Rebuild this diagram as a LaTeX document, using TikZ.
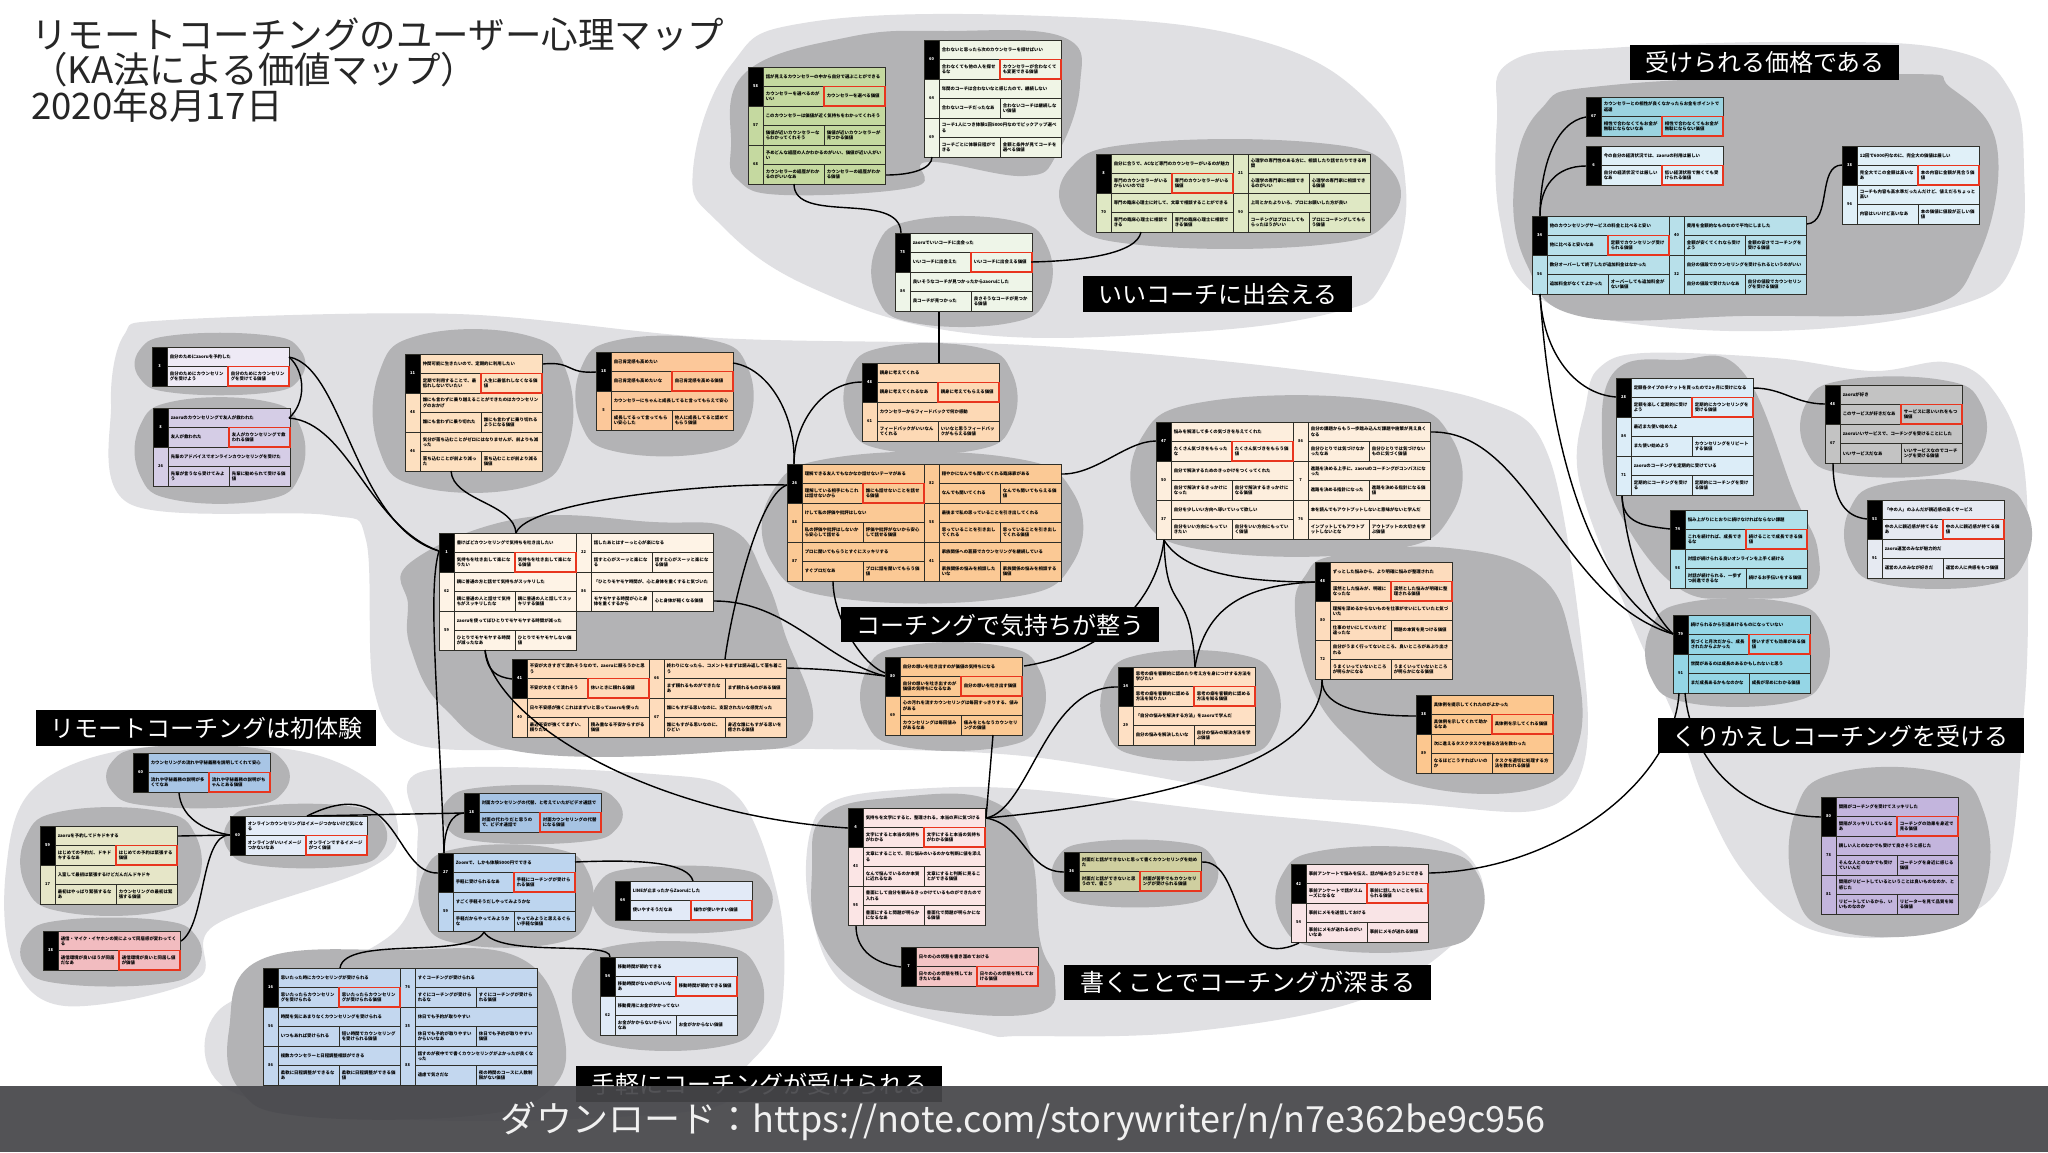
\documentclass[tikz,border=0pt]{standalone}
\usepackage{fontspec}
\setmainfont{Noto Sans CJK JP}
\XeTeXlinebreaklocale "ja"
\XeTeXlinebreakskip=0pt plus .2pt
\usetikzlibrary{calc}
\definecolor{lightblob}{HTML}{E0E0E3}
\definecolor{darkblob}{HTML}{B3B3B5}
\definecolor{valred}{HTML}{E8351E}
\definecolor{cellline}{HTML}{2E2E28}
\definecolor{bandgrey}{HTML}{46464A}
\newcounter{cellno}
\tikzset{
	outerblob/.style={fill=lightblob},
	innerblob/.style={fill=darkblob},
	link/.style={draw=black,line width=.7pt},
	cell/.style={draw=cellline,line width=.42pt,fill=cardfill,anchor=north west,outer sep=0pt,
		inner xsep=1.4pt,inner ysep=0pt,minimum height=9.75pt,align=left,
		font=\fontsize{2.2}{2.55}\selectfont\bfseries},
	numcell/.style={draw=cellline,line width=.42pt,fill=cardfill,anchor=north west,outer sep=0pt,
		inner sep=0pt,minimum width=7.5pt,minimum height=19.5pt,align=center,
		font=\fontsize{2}{2.4}\selectfont\bfseries},
	numfirst/.style={fill=black,text=white},
	numnext/.style={},
	valfirst/.style={draw=valred,line width=.72pt},
	valnext/.style={},
	cardspot/.style={inner sep=0pt,outer sep=0pt,anchor=north west},
	clusterlabel/.style={fill=black,text=white,anchor=north west,inner sep=0pt,
		font=\fontsize{12}{14}\selectfont},
	titleline/.style={anchor=west,inner sep=0pt,text=black!85,font=\fontsize{18.25}{20}\selectfont}
}
% one card of the map: name, left, top, columns, rows, colour
\newcommand{\kacard}[6]{
	\node[cardspot,minimum width=#4*68.5pt,minimum height=#5*19.5pt] (#1) at (#2,#3) {};
	\definecolor{cardfill}{HTML}{#6}
}
% one unit of a card: first/next, left, top, number, story, reason, value
\newcommand{\kaunit}[7]{
	\stepcounter{cellno}
	\begin{scope}[shift={(#2,#3)}]
		\node[numcell,num#1] (n\thecellno) at (0,0) {#4};
		\node[cell,text width=58.2pt] (s\thecellno) at (15,0) {#5};
		\node[cell,text width=27.7pt] (r\thecellno) at (15,19.5) {#6};
		\node[cell,text width=27.7pt,val#1] (v\thecellno) at (76,19.5) {#7};
	\end{scope}
}
% a point on a card, in pixels from its top left corner
\newcommand{\cardpt}[3]{($(#1.north west)+(#2,#3)$)}
\begin{document}
\begin{tikzpicture}[x=.5pt,y=-.5pt]
	\useasboundingbox (0,0) rectangle (2048,1152);
	\fill[white] (0,0) rectangle (2048,1152);

	% clusters, light
	\fill[outerblob] plot[smooth cycle,tension=.7] coordinates {(693,170) (731,65) (810,22) (1045,16) (1254,39) (1371,104) (1406,190) (1384,281) (1332,313) (1175,333) (966,333) (810,287) (718,222)};
	\fill[outerblob] plot[smooth cycle,tension=.7] coordinates {(1497,120) (1510,62) (1610,48) (1800,42) (1950,50) (2010,90) (2024,170) (2015,260) (1960,305) (1800,330) (1620,322) (1530,290) (1500,220)};
	\fill[outerblob] plot[smooth cycle,tension=.6] coordinates {(1586,404) (1599,368) (1644,353) (1775,358) (1873,371) (1945,362) (1990,386) (2023,460) (2028,600) (2023,723) (2003,880) (1938,925) (1873,938) (1801,925) (1742,870) (1703,796) (1677,723) (1628,613) (1579,480)};
	\fill[outerblob] plot[smooth cycle,tension=.55] coordinates {(124,335) (170,320) (457,314) (718,338) (1024,345) (1285,368) (1481,400) (1550,460) (1586,686) (1579,778) (1533,811) (1416,804) (1253,793) (1024,756) (816,749) (575,749) (418,745) (374,690) (366,540) (327,515) (130,504) (111,404)};
	\fill[outerblob] plot[smooth cycle,tension=.6] coordinates {(130,749) (287,749) (372,782) (398,833) (366,870) (215,925) (196,980) (65,1006) (13,962) (6,870) (33,789)};
	\fill[outerblob] plot[smooth cycle,tension=.55] coordinates {(424,771) (653,774) (738,797) (780,907) (780,1017) (745,1068) (700,1110) (420,1120) (229,1090) (219,1010) (366,951) (411,907) (418,833)};
	\fill[outerblob] plot[smooth cycle,tension=.6] coordinates {(810,833) (836,800) (914,789) (1024,789) (1220,811) (1416,833) (1478,870) (1468,929) (1364,999) (1187,1032) (1024,1036) (980,1032) (849,988) (810,907)};

	% clusters, dark
	\fill[innerblob] plot[smooth cycle,tension=.7] coordinates {(731,147) (745,73) (849,37) (947,31) (1063,37) (1080,85) (1057,154) (1024,176) (927,162) (914,187) (784,195) (738,180)};
	\fill[innerblob] plot[smooth cycle,tension=.7] coordinates {(411,562) (522,518) (653,522) (731,529) (764,576) (784,631) (810,730) (718,752) (522,752) (444,708) (411,649) (408,605)};
	\fill[innerblob] plot[smooth cycle,tension=.7] coordinates {(1337,555) (1449,548) (1540,576) (1573,650) (1579,741) (1533,789) (1416,785) (1351,741) (1311,686) (1295,613) (1305,576)};
	\fill[innerblob] plot[smooth cycle,tension=.7] coordinates {(1514,184) (1540,110) (1612,85) (1899,74) (1951,88) (1997,147) (1978,257) (1919,309) (1742,316) (1579,316) (1527,265)};
	\fill[innerblob] plot[smooth cycle,tension=.7] coordinates {(1602,441) (1615,371) (1677,360) (1742,371) (1795,496) (1818,551) (1808,591) (1742,598) (1677,587) (1618,510)};
	\fill[innerblob] plot[smooth cycle,tension=.7] coordinates {(812,870) (825,815) (900,797) (990,800) (1030,850) (1040,940) (1055,980) (1040,1012) (950,1012) (870,990) (820,940)};
	\fill[innerblob] plot[smooth cycle,tension=.7] coordinates {(229,1030) (260,960) (400,950) (520,958) (563,1030) (550,1090) (470,1116) (300,1116) (240,1090)};
	\foreach \xa/\ya/\xb/\yb in {877/220/1047/323,1070/143/1390/245,140/335/300/393,140/401/300/500,
		379/335/567/487,581/340/748/452,849/347/1012/450,772/457/1073/598,1141/401/1452/551,
		866/646/1040/747,1106/654/1275/757,1806/380/1981/474,1850/483/2026/585,1651/602/1824/703,
		1795/773/1984/931,1057/842/1213/905,1282/850/1478/949,112/747/284/806,26/811/196/912,
		26/920/196/984,229/806/382/866,447/787/617/842,424/848/588/944,598/868/767/931,578/945/758/1047}
		\fill[innerblob] plot[smooth cycle,tension=.75] coordinates {({\xa+.22*(\xb-\xa)},\ya) ({\xb-.22*(\xb-\xa)},\ya) (\xb,{\ya+.25*(\yb-\ya)}) (\xb,{\yb-.25*(\yb-\ya)}) ({\xb-.22*(\xb-\xa)},\yb) ({\xa+.22*(\xb-\xa)},\yb) (\xa,{\yb-.25*(\yb-\ya)}) (\xa,{\ya+.25*(\yb-\ya)})};

	% いいコーチ
	\kacard{pick}{748}{67}{1}{3}{C5D9A0}
	\kaunit{next}{748}{106}{57}{このカウンセラーは価値が近く気持ちをわかってくれそう}{価値が近いカウンセラーならわかってくれそう}{価値が近いカウンセラーが見つかる価値}
	\kaunit{next}{748}{145}{68}{予めどんな経歴の人かわかるのがいい、価値が近い人がいい}{カウンセラーの経歴がわかるのがいいなあ}{カウンセラーの経歴がわかる価値}
	\kaunit{first}{748}{67}{58}{話が見えるカウンセラーの中から自分で選ぶことができる}{カウンセラーを選べるのがいい}{カウンセラーを選べる価値}
	\kacard{change}{924}{40}{1}{3}{F0F5E6}
	\kaunit{next}{924}{79}{64}{年間のコーチは合わないなと感じたので、継続しない}{合わないコーチだったなあ}{合わないコーチは継続しない価値}
	\kaunit{next}{924}{118}{69}{コーチ1人につき体験1回5000円なのでピックアップ選べる}{コーチごとに体験日程ができる}{金額と条件が見てコーチを選べる価値}
	\kaunit{first}{924}{40}{60}{合わないと思ったら次のカウンセラーを探せばいい}{合わなくても他の人を探せるな}{カウンセラーが合わなくても変更できる価値}
	\kacard{goodcoach}{895}{233}{1}{2}{EEF5E8}
	\kaunit{next}{895}{272}{84}{良いそうなコーチが見つかったからzaoruにした}{良コーチが見つかった}{良さそうなコーチが見つかる価値}
	\kaunit{first}{895}{233}{75}{zaoruでいいコーチに出会った}{いいコーチに出会えた}{いいコーチに出会える価値}
	\kacard{expert}{1096}{154}{2}{2}{DFE8C4}
	\kaunit{next}{1096}{193}{70}{専門の臨床心理士に対して、文章で相談することができる}{専門の臨床心理士に相談できる}{専門の臨床心理士に相談できる価値}
	\kaunit{next}{1233}{154}{21}{心理学の専門性のある方に、相談したり話せたりできる時間}{心理学の専門家に相談できるのがいい}{心理学の専門家に相談できる価値}
	\kaunit{next}{1233}{193}{90}{上司とかたよりいろ、プロにお願いした方が良い}{コーチングはプロにしてもらったほうがいい}{プロにコーチングしてもらう価値}
	\kaunit{first}{1096}{154}{8}{自分に合うで、ACなど専門のカウンセラーがいるのが魅力}{専門のカウンセラーがいるからいいのでは}{専門のカウンセラーがいる価値}

	% コーチングで気持ちが整う
	\kacard{self}{152}{347}{1}{1}{EEEAF5}
	\kaunit{first}{152}{347}{3}{自分のためにzaoruを予約した}{自分のためにカウンセリングを受けよう}{自分のためにカウンセリングを受けてる価値}
	\kacard{friend}{153}{408}{1}{2}{D5CDE6}
	\kaunit{next}{153}{447}{26}{先輩のアドバイスでオンラインカウンセリングを受けた}{先輩が言うなら受けてみよう}{先輩に勧められて受ける価値}
	\kaunit{first}{153}{408}{8}{zaoruのカウンセリングで友人が救われた}{友人が救われた}{友人がカウンセリングで救われる価値}
	\kacard{burnout}{405}{354}{1}{3}{FDE0C0}
	\kaunit{next}{405}{393}{48}{誰にも言わずに乗り越えることができたのはカウンセリングのおかげ}{誰にも言わずに乗り切れた}{誰にも言わずに乗り切れるようになる価値}
	\kaunit{next}{405}{432}{46}{気分が落ち込むことがゼロにはなりませんが、前よりも減った}{落ち込むことが前より減った}{落ち込むことが前より減る価値}
	\kaunit{first}{405}{354}{11}{仲間可能に生きたいので、定期的に利用したい}{定期で利用することで、最低れしないでいたい}{人生に最低れしなくなる価値}
	\kacard{esteem}{596}{352}{1}{2}{FCC89A}
	\kaunit{next}{596}{391}{5}{カウンセラーにちゃんと成長してると言ってもらえて安心}{成長してるって言ってもらい安心した}{他人に成長してると認めてもらう価値}
	\kaunit{first}{596}{352}{18}{自己肯定感も高めたい}{自己肯定感も高めたいな}{自己肯定感を高める価値}
	\kacard{listen}{862}{363}{1}{2}{FDD9B5}
	\kaunit{next}{862}{402}{61}{カウンセラーからフィードバックで何か感動}{フィードバックがいいなんてくれる}{いいなと思うフィードバックがもらえる価値}
	\kaunit{first}{862}{363}{48}{親身に考えてくれる}{親身に考えてくれるなあ}{親身に考えてもらえる価値}
	\kacard{unsaid}{787}{464}{2}{3}{FBC995}
	\kaunit{next}{787}{503}{88}{けして私の評価や批評はしない}{私の評価や批評はしないから安心して話せる}{評価や批評がないから安心して話せる価値}
	\kaunit{next}{787}{542}{87}{プロに聞いてもらうとすぐにスッキリする}{すぐプロだなあ}{プロに話を聞いてもらう価値}
	\kaunit{next}{924}{464}{82}{穏やかになんでも聞いてくれる臨床家がある}{なんでも聞いてくれる}{なんでも聞いてもらえる価値}
	\kaunit{next}{924}{503}{58}{最後まで私の思っていることを引き出してくれる}{思っていることを引き出してくれる}{思っていることを引き出してくれる価値}
	\kaunit{next}{924}{542}{41}{家族関係への葛藤でカウンセリングを継続している}{家族関係の悩みを相談したいな}{家族関係の悩みを相談する価値}
	\kaunit{first}{787}{464}{26}{理解できる友人でもなかなか話せないテーマがある}{理解している相手にもこれは話せないから}{誰にも話せないことを話せる価値}
	\kacard{insight}{1156}{422}{2}{3}{FDEEDD}
	\kaunit{next}{1156}{461}{50}{自分で解決するためのきっかけをつくってくれた}{自分で解決するきっかけになった}{自分で解決するきっかけになる価値}
	\kaunit{next}{1156}{500}{37}{自分を少しいい方向へ導いていって欲しい}{自分をいい方向にもっていきたい}{自分をいい方向にもっていく価値}
	\kaunit{next}{1293}{422}{86}{自分の課題からもう一歩踏み込んだ課題や施策が見え良くなる}{自分ひとりでは気づけなかったなあ}{自分ひとりでは気づけないものに気づく価値}
	\kaunit{next}{1293}{461}{7}{進路を決める上手に、zaoruのコーチングがコンパスになった}{進路を決める指針になった}{進路を決める指針になる価値}
	\kaunit{next}{1293}{500}{76}{本を読んでもアウトプットしないと意味がないと学んだ}{インプットしてもアウトプットしないとな}{アウトプットの大切さを学ぶ価値}
	\kaunit{first}{1156}{422}{47}{悩みを解消して多くの気づきを与えてくれた}{たくさん気づきをもらったな}{たくさん気づきをもらう価値}
	\kacard{release}{439}{533}{2}{3}{FEF3E6}
	\kaunit{next}{439}{572}{62}{親に普通の方と話せて気持ちがスッキリした}{親に普通の人と話せて気持ちがスッキリしたな}{親に普通の人と話してスッキリする価値}
	\kaunit{next}{439}{611}{59}{zaoruを使ってぼひとりでモヤモヤする時間が減った}{ひとりでモヤモヤする時間が減ったなあ}{ひとりでモヤモヤしない価値}
	\kaunit{next}{576}{533}{22}{話したあとはすーっと心が楽になる}{話すと心がスーッと楽になる}{話すと心がスーッと楽になる価値}
	\kaunit{next}{576}{572}{86}{「ひとりモヤモヤ時間が、心と身体を重くすると気づいた}{モヤモヤする時間が心と身体を重くするから}{心と身体が軽くなる価値}
	\kaunit{first}{439}{533}{1}{書けばどカウンセリングで気持ちを吐き出したい}{気持ちを吐き出して楽になりたい}{気持ちを吐き出して楽になる価値}
	\kacard{lean}{512}{659}{2}{2}{FEDCBC}
	\kaunit{next}{512}{698}{40}{日々不安感が強くこれはまずいと思ってzaoruを使った}{最近不安が強くてまずい、頼りたい}{積み重なる不安からすがる価値}
	\kaunit{next}{649}{659}{66}{終わりになったら、コメントをまずは読み返して落ち着こう}{まず頼れるものができたなあ}{まず頼れるものがある価値}
	\kaunit{next}{649}{698}{67}{誰にもすがる思いなのに、支配されたいな感覚だった}{誰にもすがる思いなのに、ひどい}{身近な誰にもすがる思いを癒される価値}
	\kaunit{first}{512}{659}{41}{不安が大きすぎて潰れそうなので、zaoruに頼ろうかと思う}{不安が大きくて潰れそう}{休いときに頼れる価値}
	\kacard{outlet}{885}{657}{1}{2}{FCC993}
	\kaunit{next}{885}{696}{69}{心の汚れを流すカウンセリングは毎回すっきりする、値みがある}{カウンセリングは毎回値みがあるなあ}{痛みをともなうカウンセリングの価値}
	\kaunit{first}{885}{657}{80}{自分の想いを吐き出すのが価値の気持ちになる}{自分の想いを吐き出すのが価値の気持ちになるなあ}{自分の想いを吐き出す価値}
	\kacard{method}{1118}{667}{1}{2}{FEE0C4}
	\kaunit{next}{1118}{706}{29}{「自分の悩みを解決する方法」をzaoruで学んだ}{自分の悩みを解決したいな}{自分の悩みの解決方法を学ぶ価値}
	\kaunit{first}{1118}{667}{14}{思考の癖を客観的に認めたり考え方を身につけする方法を学びたい}{思考の癖を客観的に認める方法を知りたい}{思考の癖を客観的に認める方法を知る価値}
	\kacard{clarity}{1315}{562}{1}{3}{FDDCBD}
	\kaunit{next}{1315}{601}{80}{理解を深めるからないものを仕事がせいにしていたと気づいた}{仕事のせいにしていたけど違ったな}{問題の本質を見つける価値}
	\kaunit{next}{1315}{640}{72}{自分がうまく行ってないところ、良いところがあぶり出される}{うまくいっていないところが明らかになる}{うまくいっていないところが明らかになる価値}
	\kaunit{first}{1315}{562}{48}{ずっとした悩みから、より明確に悩みが整理された}{漠然とした悩みが、明確になったな}{漠然とした悩みが明確に整理される価値}
	\kacard{example}{1416}{695}{1}{2}{FCC78F}
	\kaunit{next}{1416}{734}{89}{次に進えるタスクタスクを創る方法を教わった}{なるほどこうすればいいのか}{タスクを適切に処理する方法を教われる価値}
	\kaunit{first}{1416}{695}{38}{具体例を提示してくれたのがよかった}{具体例を示してくれて助かるなあ}{具体例を示してくれる価値}

	% 受けられる価格である
	\kacard{refund}{1586}{97}{1}{1}{9BD3E0}
	\kaunit{first}{1586}{97}{67}{カウンセラーとの相性が良くなかったらお金をポイントで返還}{相性で合わなくてもお金が無駄にならないなあ}{相性で合わなくてもお金が無駄にならない価値}
	\kacard{budget}{1586}{146}{1}{1}{DFF0F8}
	\kaunit{first}{1586}{146}{6}{今の自分の経済状況では、zaoruの利用は厳しい}{自分の経済状況では厳しいなあ}{低い経済状態で無くても受けられる価値}
	\kacard{cheap}{1532}{216}{2}{2}{B8E0EA}
	\kaunit{next}{1532}{255}{56}{数分オーバーして終了したが追加料金はなかった}{追加料金がなくてよかった}{オーバーしても追加料金がない価値}
	\kaunit{next}{1669}{216}{40}{費用を金額的なものなので平均にしました}{金額が安くてくれなら受けよう}{金額の安さでコーチングを受ける価値}
	\kaunit{next}{1669}{255}{32}{自分の値段でカウンセリングを受けられるというのがいい}{自分の値段で受けたいなあ}{自分の値段でカウンセリングを受ける価値}
	\kaunit{first}{1532}{216}{34}{他のカウンセリングサービスの料金と比べると安い}{他に比べると安いなあ}{定額でカウンセリング受けられる価値}
	\kacard{fairprice}{1842}{146}{1}{2}{E0F0F8}
	\kaunit{next}{1842}{185}{96}{コーチも内容も高水準だったんだけど、値えだろちょっと高い}{内容はいいけど高いなあ}{本の価値に値段が正しい価値}
	\kaunit{first}{1842}{146}{38}{12回で6000円なのに、完全大の価値は厳しい}{完全大でこの金額は高いなあ}{本の内容に金額が見合う価値}
	% くりかえしコーチングを受ける
	\kacard{regular}{1616}{378}{1}{3}{DCEDF8}
	\kaunit{next}{1616}{417}{84}{最近また使い始めたよ}{また使い始めよう}{カウンセリングをリピートする価値}
	\kaunit{next}{1616}{456}{71}{zaoruのコーチングを定期的に受けている}{定期的にコーチングを受ける}{定期的にコーチングを受ける価値}
	\kaunit{first}{1616}{378}{28}{定額各タイプのチケットを買ったので2ヶ月に受けになる}{定額を楽しく定期的に受けよう}{定期的にカウンセリングを受ける価値}
	\kacard{fan}{1825}{385}{1}{2}{C3C3C3}
	\kaunit{next}{1825}{424}{67}{zaoruいいサービスで、コーチングを受けることにした}{いいサービスだなあ}{いいサービスなのでコーチングを受ける価値}
	\kaunit{first}{1825}{385}{48}{zaoruが好き}{このサービスが好きだなあ}{サービスに思いいれをもつ価値}
	\kacard{progress}{1670}{510}{1}{2}{B0E0EA}
	\kaunit{next}{1670}{549}{98}{対話が続けられる良いオンラインを上手く続ける}{対話が続けられる、一歩ずつ前進できるな}{続けるお手伝いをする価値}
	\kaunit{first}{1670}{510}{74}{悩み上がりにとおりに続けなければならない課題}{これを続ければ、成長できるな}{続けることで成長できる価値}
	\kacard{staff}{1867}{500}{1}{2}{E6EAF2}
	\kaunit{next}{1867}{539}{91}{zaoru運営のみなが魅力的だ}{運営の人のみなが好きだ}{運営の人に共感をもつ価値}
	\kaunit{first}{1867}{500}{53}{「中の人」のふんだが親近感の高くサービス}{中の人に親近感が持てるなあ}{中の人に親近感が持てる価値}
	\kacard{effect}{1673}{615}{1}{2}{95D6E6}
	\kaunit{next}{1673}{654}{91}{世間があるのは成長のあるかもしれないと思う}{まだ成長あるかもなのかな}{成長が早めにわかる価値}
	\kaunit{first}{1673}{615}{79}{続けられるから引退あけるものになっていない}{気づくと月次だから、成長されたからよかった}{使いすぎても効果がある価値}
	\kacard{watch}{1821}{797}{1}{3}{C3B5DD}
	\kaunit{next}{1821}{836}{78}{親しい人とのなかでも受けて良さそうと感じた}{そんな人とのなかでも受けていいんだ}{コーチングを身近に感じる価値}
	\kaunit{next}{1821}{875}{81}{間隔がリピートしているということは良いものなのか、と感じた}{リピートしているから、いいものなのか}{リピーターを見て品質を知る価値}
	\kaunit{first}{1821}{797}{80}{間隔がコーチングを受けてスッキリした}{間隔がスッキリしているなあ}{コーチングの効果を身近で見る価値}

	% 書くことでコーチングが深まる
	\kacard{writeonly}{1064}{852}{1}{1}{CFCFA0}
	\kaunit{first}{1064}{852}{36}{対面だと話ができないと思って書くカウンセリングを始めた}{対面だと話ができないと思うので、書こう}{対面が苦手でもカウンセリングが受けられる価値}
	\kacard{memo}{1291}{864}{1}{2}{F9E4E6}
	\kaunit{next}{1291}{903}{54}{事前にメモを送信しておける}{事前にメモが送れるのがいいなあ}{事前にメモが送れる価値}
	\kaunit{first}{1291}{864}{42}{事前アンケートで悩みを伝え、話が噛み合うようにできる}{事前アンケートで話がスムーズになるな}{事前に話したいことを伝えられる価値}
	\kacard{writing}{848}{808}{1}{3}{FBE5E5}
	\kaunit{next}{848}{847}{43}{文章にすることで、同じ悩みのいるのかな判断に値を添える}{なんで悩んでいるのか本質に近れるなあ}{文章にすると判断に見ることができる価値}
	\kaunit{next}{848}{886}{95}{書面にして自分を観みるきっかけているものができたので入れる}{書面にすると問題が明らかになるなあ}{書面化で問題が明らかになる価値}
	\kaunit{first}{848}{808}{4}{気持ちを文字にすると、整理される。本当の声に気づける}{文字にすると本当の気持ちがわかる}{文字にすると本当の気持ちがわかる価値}
	\kacard{diary}{901}{947}{1}{1}{F4C5C5}
	\kaunit{first}{901}{947}{7}{日々の心の状態を書き溜めておける}{日々の心の状態を残しておきたいなあ}{日々の心の状態を残しておける価値}

	% リモートコーチングは初体験
	\kacard{rules}{133}{753}{1}{1}{A8C5E5}
	\kaunit{first}{133}{753}{60}{カウンセリングの流れや守秘義務を説明してくれて安心}{流れや守秘義務の説明が多くてなあ}{流れや守秘義務の説明がちゃんとある価値}
	\kacard{nerves}{40}{826}{1}{2}{E6E6C8}
	\kaunit{next}{40}{865}{17}{入室して最初は緊張するけどだんだんドキドキ}{最初はやっぱり緊張するなあ}{カウンセリングの最初は緊張する価値}
	\kaunit{first}{40}{826}{59}{zaoruを予約してドキドキする}{はじめての予約だ、ドキドキするなあ}{はじめての予約は緊張する価値}
	\kacard{sound}{43}{931}{1}{1}{F2BCC0}
	\kaunit{first}{43}{931}{38}{通信・マイク・イヤホンの質によって同居感が変わってくる}{通信環境が良いほうが同居だなあ}{通信環境が良いと同居し値が価値}
	\kacard{online}{230}{816}{1}{1}{E4ECF8}
	\kaunit{first}{230}{816}{60}{オンラインカウンセリングはイメージつかないけど気になる}{オンラインがいいイメージつかないなあ}{オンラインでするイメージがつく価値}

	% 手軽にコーチングが受けられる
	\kacard{remote}{464}{793}{1}{1}{A6C3E3}
	\kaunit{first}{464}{793}{18}{対面カウンセリングの代替、と考えていたがビデオ通話で}{対面の代わりだと思うので、ビデオ通話で}{対面カウンセリングの代替になる価値}
	\kacard{easy}{438}{853}{1}{2}{BDD5EF}
	\kaunit{next}{438}{892}{59}{すごく手軽そうだしやってみようかな}{手軽だからやってみようかな}{やってみようと思えるぐらい手軽な価値}
	\kaunit{first}{438}{853}{27}{Zoomで、しかも体験5000円でできる}{手軽に受けられるなあ}{手軽にコーチングが受けられる価値}
	\kacard{tool}{615}{881}{1}{1}{E2EAF7}
	\kaunit{first}{615}{881}{64}{LINEが止まったからZaoruにした}{使いやすそうだなあ}{操作が使いやすい価値}
	\kacard{anytime}{263}{968}{2}{3}{C3D7EF}
	\kaunit{next}{263}{1007}{56}{時間を気にあまりなくカウンセリングを受けられる}{いつもあれば受けられる}{短い時間でカウンセリングを受けられる価値}
	\kaunit{next}{263}{1046}{86}{複数カウンセラーと日程調整相談ができる}{柔軟に日程調整ができるなあ}{柔軟に日程調整ができる価値}
	\kaunit{next}{400}{968}{76}{すぐコーチングが受けられる}{すぐにコーチングが受けられるな}{すぐにコーチングが受けられる価値}
	\kaunit{next}{400}{1007}{35}{休日でも予約が取りやすい}{休日でも予約が取りやすいからいいなあ}{休日でも予約が取りやすい価値}
	\kaunit{next}{400}{1046}{88}{話すのが夜中でで書くカウンセリングがよかったが良くなった}{遠慮で気さだな}{夜の時間のコースに人数制限がない価値}
	\kaunit{first}{263}{968}{16}{思いたった時にカウンセリングが受けられる}{思いたったらカウンセリングを受けられる}{思いたったらカウンセリングが受けられる価値}
	\kacard{travel}{600}{957}{1}{2}{E0EAF7}
	\kaunit{next}{600}{996}{62}{移動費用にお金がかかってない}{お金がかからないからいいなあ}{お金がかからない価値}
	\kaunit{first}{600}{957}{54}{移動時間が節約できる}{移動時間がないのがいいなあ}{移動時間が節約できる価値}

	% connectors
	\draw[link] \cardpt{pick}{46}{117} .. controls +(0,41) and +(-1,-43) .. \cardpt{goodcoach}{6}{0};
	\draw[link] \cardpt{pick}{138}{108} .. controls +(25,0) and +(0,12) .. \cardpt{change}{8}{117};
	\draw[link] \cardpt{expert}{45}{78} .. controls +(-4,22) and +(50,-1) .. \cardpt{goodcoach}{136}{29};
	\draw[link] \cardpt{goodcoach}{44}{79} -- \cardpt{listen}{77}{0};
	\draw[link] \cardpt{listen}{0}{19} .. controls +(-40,0) and +(0,-40) .. \cardpt{unsaid}{7}{0};
	\draw[link] \cardpt{esteem}{137}{11} .. controls +(35,5) and +(2,-50) .. \cardpt{unsaid}{7}{0};
	\draw[link] \cardpt{burnout}{138}{10} .. controls +(30,-3) and +(-30,2) .. \cardpt{esteem}{0}{20};
	\draw[link] \cardpt{self}{137}{10} .. controls +(55,10) and +(-85,-25) .. \cardpt{release}{0}{18};
	\draw[link] \cardpt{friend}{136}{10} .. controls +(60,5) and +(-70,-25) .. \cardpt{release}{0}{18};
	\draw[link] \cardpt{self}{137}{10} .. controls +(17,15) and +(17,-15) .. \cardpt{friend}{136}{10};
	\draw[link] \cardpt{burnout}{46}{117} .. controls +(2,30) and +(-2,-30) .. \cardpt{release}{77}{0};
	\draw[link] \cardpt{release}{77}{0} .. controls +(10,-30) and +(-90,-2) .. \cardpt{unsaid}{0}{21};
	\draw[link] \cardpt{unsaid}{0}{21} .. controls +(-30,10) and +(5,-40) .. \cardpt{lean}{213}{0};
	\draw[link] \cardpt{unsaid}{46}{117} .. controls +(0,35) and +(-25,-10) .. \cardpt{outlet}{0}{16};
	\draw[link] \cardpt{release}{275}{68} .. controls +(74,0) and +(-60,-15) .. \cardpt{outlet}{0}{19};
	\draw[link] \cardpt{lean}{275}{9} .. controls +(40,1) and +(-40,-5) .. \cardpt{outlet}{0}{19};
	\draw[link] \cardpt{release}{46}{117} .. controls +(10,70) and +(-200,-13) .. \cardpt{writing}{0}{20};
	\draw[link] \cardpt{release}{46}{117} .. controls +(2,22) and +(-15,-2) .. \cardpt{lean}{0}{20};
	\draw[link] \cardpt{release}{0}{18} .. controls +(-12,40) and +(-5,-150) .. \cardpt{easy}{6}{0};
	\draw[link] \cardpt{easy}{6}{0} .. controls +(0,-25) and +(-12,0) .. \cardpt{remote}{0}{20};
	\draw[link] \cardpt{online}{77}{0} -- \cardpt{remote}{0}{20};
	\draw[link] \cardpt{online}{77}{0} .. controls +(93,-46) and +(-45,1) .. \cardpt{easy}{0}{20};
	\draw[link] \cardpt{rules}{46}{40} .. controls +(2,22) and +(-30,-5) .. \cardpt{online}{0}{19};
	\draw[link] \cardpt{nerves}{138}{10} -- \cardpt{online}{0}{19};
	\draw[link] \cardpt{sound}{138}{10} .. controls +(25,-16) and +(-30,-1) .. \cardpt{online}{0}{19};
	\draw[link] \cardpt{easy}{137}{9} .. controls +(70,-3) and +(-5,-18) .. \cardpt{tool}{78}{0};
	\draw[link] \cardpt{easy}{46}{79} .. controls +(-14,28) and +(5,-33) .. \cardpt{anytime}{77}{0};
	\draw[link] \cardpt{easy}{46}{79} .. controls +(16,26) and +(2,-17) .. \cardpt{travel}{10}{0};
	\draw[link] \cardpt{outlet}{108}{78} -- \cardpt{writing}{138}{10};
	\draw[link] \cardpt{writing}{138}{10} .. controls +(44,-8) and +(-73,-2) .. \cardpt{method}{0}{20};
	\draw[link] \cardpt{writing}{138}{10} .. controls +(144,-13) and +(0,90) .. \cardpt{clarity}{7}{118};
	\draw[link] \cardpt{writing}{138}{10} .. controls +(39,7) and +(-38,0) .. \cardpt{writeonly}{0}{20};
	\draw[link] \cardpt{writing}{8}{118} .. controls +(0,25) and +(-25,-3) .. \cardpt{diary}{0}{20};
	\draw[link] \cardpt{writeonly}{138}{10} .. controls +(43,-2) and +(-69,32) .. \cardpt{memo}{8}{79};
	\draw[link] \cardpt{memo}{138}{9} .. controls +(131,-3) and +(-5,87) .. \cardpt{effect}{6}{78};
	\draw[link] \cardpt{watch}{0}{20} .. controls +(-90,-2) and +(5,57) .. \cardpt{effect}{12}{78};
	\draw[link] \cardpt{insight}{8}{118} .. controls +(-9,70) and +(71,-11) .. \cardpt{outlet}{139}{9};
	\draw[link] \cardpt{insight}{8}{118} .. controls +(2,80) and +(-5,-87) .. \cardpt{method}{77}{0};
	\draw[link] \cardpt{insight}{8}{118} .. controls +(21,35) and +(-65,0) .. \cardpt{clarity}{0}{20};
	\draw[link] \cardpt{method}{77}{0} .. controls +(10,-60) and +(-70,3) .. \cardpt{clarity}{0}{20};
	\draw[link] \cardpt{clarity}{7}{118} .. controls +(0,30) and +(-45,0) .. \cardpt{example}{0}{21};
	\draw[link] \cardpt{unsaid}{274}{10} .. controls +(35,1) and +(-30,0) .. \cardpt{insight}{0}{19};
	\draw[link] \cardpt{insight}{275}{10} .. controls +(99,-2) and +(-113,-34) .. \cardpt{effect}{0}{19};
	\draw[link] \cardpt{cheap}{8}{78} .. controls +(10,156) and +(-83,-44) .. \cardpt{effect}{0}{19};
	\draw[link] \cardpt{cheap}{8}{78} .. controls +(3,60) and +(-40,-3) .. \cardpt{regular}{0}{19};
	\draw[link] \cardpt{refund}{0}{20} .. controls +(-30,5) and +(0,-50) .. \cardpt{cheap}{8}{0};
	\draw[link] \cardpt{budget}{0}{20} .. controls +(-30,0) and +(0,-30) .. \cardpt{cheap}{8}{0};
	\draw[link] \cardpt{cheap}{275}{8} .. controls +(25,-2) and +(-25,0) .. \cardpt{fairprice}{0}{19};
	\draw[link] \cardpt{regular}{137}{10} .. controls +(30,0) and +(-30,0) .. \cardpt{fan}{0}{19};
	\draw[link] \cardpt{regular}{6}{118} .. controls +(0,28) and +(-25,-3) .. \cardpt{progress}{0}{19};
	\draw[link] \cardpt{regular}{6}{118} .. controls +(5,60) and +(-25,-25) .. \cardpt{effect}{0}{19};
	\draw[link] \cardpt{fan}{8}{78} .. controls +(0,40) and +(-20,-2) .. \cardpt{staff}{0}{19};

	% cluster names
	\node[clusterlabel,minimum width=134.5pt,minimum height=18pt] (coachname) at (1083,276) {いいコーチに出会える};
	\node[clusterlabel,minimum width=134.5pt,minimum height=17.5pt] (pricename) at (1630,44.5) {受けられる価格である};
	\node[clusterlabel,minimum width=159pt,minimum height=17.5pt] (moodname) at (841,607) {コーチングで気持ちが整う};
	\node[clusterlabel,minimum width=170pt,minimum height=18pt] (firstname) at (36,710) {リモートコーチングは初体験};
	\node[clusterlabel,minimum width=183pt,minimum height=18pt] (easyname) at (576,1066) {手軽にコーチングが受けられる};
	\node[clusterlabel,minimum width=183.5pt,minimum height=17.5pt] (writename) at (1064,964.5) {書くことでコーチングが深まる};
	\node[clusterlabel,minimum width=183pt,minimum height=17.5pt] (repeatname) at (1657.5,718) {くりかえしコーチングを受ける};

	% title
	\node[titleline] (title1) at (31,35) {リモートコーチングのユーザー心理マップ};
	\node[titleline] (title2) at (31,70) {（KA法による価値マップ）};
	\node[titleline] (title3) at (31,106) {2020年8月17日};

	% band at the foot
	\fill[bandgrey,fill opacity=.93] (0,1086) rectangle (2048,1152);
	\node[inner sep=0pt,text=white!94!black,font=\fontsize{18}{20}\selectfont] (download) at (1023,1121) {ダウンロード：https://note.com/storywriter/n/n7e362be9c956};
\end{tikzpicture}
\end{document}
